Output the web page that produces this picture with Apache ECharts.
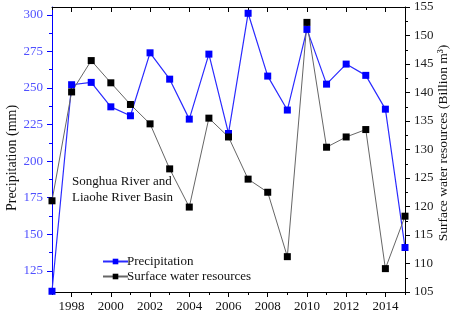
<!DOCTYPE html>
<html>
<head>
<meta charset="utf-8">
<script src="https://cdn.jsdelivr.net/npm/echarts@6/dist/echarts.min.js"></script>
<style>
  html, body { margin: 0; padding: 0; background: #fff; }
  #chart { width: 450px; height: 320px; }
</style>
</head>
<body>
<div id="chart"></div>
<script>
// Annual series, Songhua River and Liaohe River Basin
const years = [1997, 1998, 1999, 2000, 2001, 2002, 2003, 2004, 2005, 2006,
               2007, 2008, 2009, 2010, 2011, 2012, 2013, 2014, 2015];
const precipitation = [111.1, 252.2, 253.8, 237.1, 231.0, 274.0, 256.0, 228.7, 273.1, 218.9,
                       301.0, 258.1, 234.9, 290.0, 252.6, 266.3, 258.6, 235.5, 141.0];
const surfaceWater = [121.0, 140.1, 145.6, 141.7, 137.9, 134.5, 126.6, 119.9, 135.5, 132.2,
                      124.8, 122.5, 111.2, 152.3, 130.4, 132.2, 133.5, 109.1, 118.3];

// Tick positions
const xMajorTicks = [1998, 2000, 2002, 2004, 2006, 2008, 2010, 2012, 2014];
const xMinorTicks = [1997, 1999, 2001, 2003, 2005, 2007, 2009, 2011, 2013, 2015];
const leftMajorTicks = [125, 150, 175, 200, 225, 250, 275, 300];
const leftMinorTicks = [112.5, 137.5, 162.5, 187.5, 212.5, 237.5, 262.5, 287.5];

const FONT = 'Liberation Serif';
const BLUE = '#0000ff';
const LABEL_BLUE = '#5050ff';
const X_MIN = 1997, X_MAX = 2015;
const LEFT_MIN = 110.6, LEFT_MAX = 305.3;

const chart = echarts.init(document.getElementById('chart'), null, { renderer: 'canvas' });

const pair = (arr) => years.map((y, i) => [y, arr[i]]);

// Vertical axis titles, read bottom to top
const axisTitle = (text, x, y, size) => ({
  type: 'text',
  x: x, y: y,
  rotation: Math.PI / 2,
  style: {
    text: text,
    font: size + 'px "Liberation Serif"',
    fill: '#111',
    align: 'center',
    verticalAlign: 'middle'
  }
});

const option = {
  animation: false,
  backgroundColor: '#fff',
  grid: { left: 52, right: 45, top: 7, bottom: 28, outerBoundsMode: 'none', containLabel: false },
  legend: {
    orient: 'vertical',
    left: 97,
    top: 250,
    itemWidth: 25,
    itemHeight: 7,
    itemGap: 2,
    data: ['Precipitation', 'Surface water resources'],
    textStyle: { fontFamily: FONT, fontSize: 13, color: '#111', padding: [0, 0, 0, -6] }
  },
  graphic: [
    {
      type: 'text',
      left: 72,
      top: 174,
      style: {
        text: 'Songhua River and\nLiaohe River Basin',
        font: '13px "Liberation Serif"',
        fill: '#111',
        lineHeight: 15.6
      }
    },
    axisTitle('Precipitation (mm)', 12.5, 158, 14),
    axisTitle('Surface water resources (Billion m\u00B3)', 443, 143, 13.5)
  ],
  xAxis: [
    { // bottom axis with labels and major ticks
      type: 'value', min: X_MIN, max: X_MAX, position: 'bottom',
      axisLine: { show: true, lineStyle: { color: '#000', width: 1 } },
      axisTick: { show: true, customValues: xMajorTicks, length: 5, lineStyle: { color: '#000' } },
      axisLabel: { customValues: xMajorTicks, formatter: (v) => String(v), margin: 8,
                   fontFamily: FONT, fontSize: 13, color: '#111' },
      splitLine: { show: false }
    },
    { // bottom minor ticks
      type: 'value', min: X_MIN, max: X_MAX, position: 'bottom',
      axisLine: { show: false },
      axisTick: { show: true, customValues: xMinorTicks, length: 3, lineStyle: { color: '#000' } },
      axisLabel: { show: false },
      splitLine: { show: false }
    },
    { // top frame edge with inward ticks
      type: 'value', min: X_MIN, max: X_MAX, position: 'top',
      axisLine: { show: true, lineStyle: { color: '#000', width: 1 } },
      axisTick: { show: true, inside: true, customValues: xMajorTicks, length: 5, lineStyle: { color: '#000' } },
      axisLabel: { show: false },
      splitLine: { show: false }
    },
    {
      type: 'value', min: X_MIN, max: X_MAX, position: 'top',
      axisLine: { show: false },
      axisTick: { show: true, inside: true, customValues: xMinorTicks, length: 3, lineStyle: { color: '#000' } },
      axisLabel: { show: false },
      splitLine: { show: false }
    }
  ],
  yAxis: [
    { // precipitation axis (left)
      type: 'value', min: LEFT_MIN, max: LEFT_MAX, position: 'left',
      axisLine: { show: true, lineStyle: { color: BLUE, width: 1 } },
      axisTick: { show: true, customValues: leftMajorTicks, length: 5, lineStyle: { color: BLUE } },
      axisLabel: { customValues: leftMajorTicks, margin: 9, fontFamily: FONT, fontSize: 13, color: LABEL_BLUE },
      splitLine: { show: false }
    },
    { // left minor ticks
      type: 'value', min: LEFT_MIN, max: LEFT_MAX, position: 'left',
      axisLine: { show: false },
      axisTick: { show: true, customValues: leftMinorTicks, length: 3, lineStyle: { color: BLUE } },
      axisLabel: { show: false },
      splitLine: { show: false }
    },
    { // surface water axis (right)
      type: 'value', min: 105, max: 155, interval: 5, position: 'right',
      axisLine: { show: true, lineStyle: { color: '#000', width: 1 } },
      axisTick: { show: true, length: 5, lineStyle: { color: '#000' } },
      minorTick: { show: true, splitNumber: 2, length: 3, lineStyle: { color: '#000' } },
      axisLabel: { margin: 9, fontFamily: FONT, fontSize: 13, color: '#222' },
      splitLine: { show: false }
    }
  ],
  series: [
    {
      name: 'Precipitation', type: 'line', xAxisIndex: 0, yAxisIndex: 0,
      data: pair(precipitation),
      symbol: 'rect', symbolSize: 7,
      itemStyle: { color: BLUE },
      lineStyle: { color: '#2a2aff', width: 1.2 },
      clip: true
    },
    {
      name: 'Surface water resources', type: 'line', xAxisIndex: 0, yAxisIndex: 2,
      data: pair(surfaceWater),
      symbol: 'rect', symbolSize: 7,
      itemStyle: { color: '#000' },
      lineStyle: { color: '#666', width: 1 },
      clip: true
    }
  ]
};

chart.setOption(option);
</script>
</body>
</html>
